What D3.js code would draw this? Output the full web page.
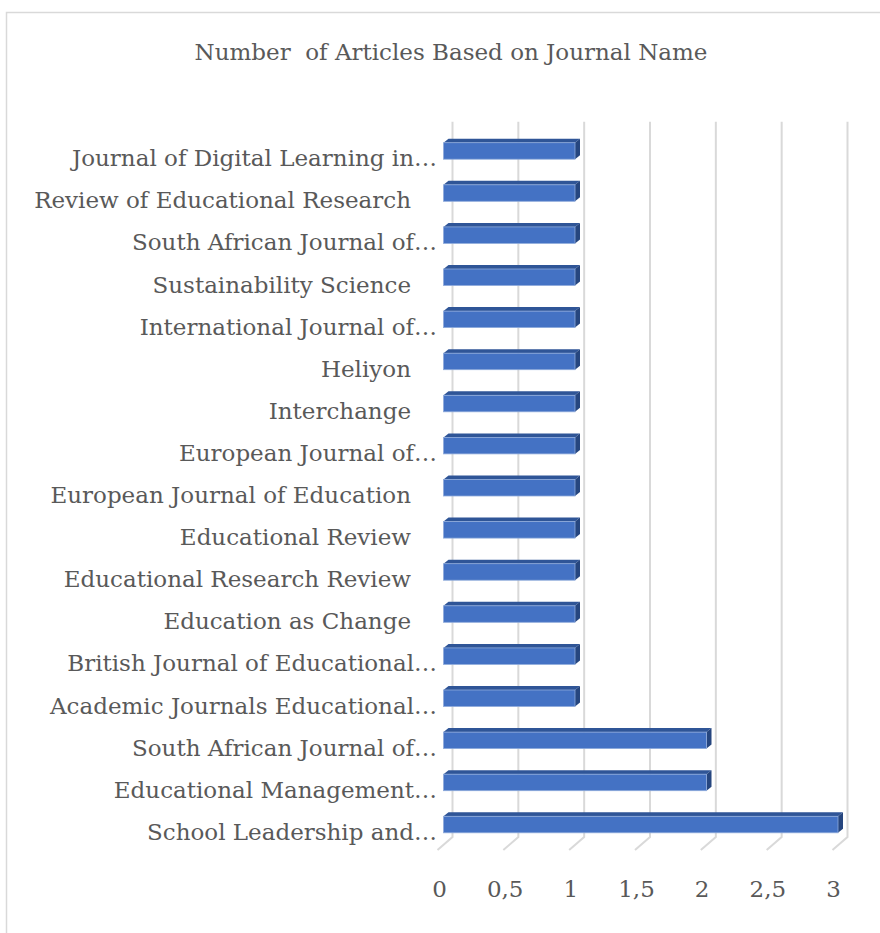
<!DOCTYPE html>
<html>
<head>
<meta charset="utf-8">
<script src="https://cdn.jsdelivr.net/npm/d3@7"></script>
<style>
  html, body { margin: 0; padding: 0; background: #fff; }
  svg { display: block; }
</style>
</head>
<body>
<svg id="chart" width="880" height="933"></svg>
<script>
const title = "Number  of Articles Based on Journal Name";
const categories = [
  "Journal of Digital Learning in…",
  "Review of Educational Research",
  "South African Journal of…",
  "Sustainability Science",
  "International Journal of…",
  "Heliyon",
  "Interchange",
  "European Journal of…",
  "European Journal of Education",
  "Educational Review",
  "Educational Research Review",
  "Education as Change",
  "British Journal of Educational…",
  "Academic Journals Educational…",
  "South African Journal of…",
  "Educational Management…",
  "School Leadership and…"
];
const values = [1,1,1,1,1,1,1,1,1,1,1,1,1,1,2,2,3];
const tickValues = [0, 0.5, 1, 1.5, 2, 2.5, 3];
const tickLabels = ["0", "0,5", "1", "1,5", "2", "2,5", "3"];

const svg = d3.select("#chart");
const FONT = "'DejaVu Serif', serif";
const TXT = "#595959";

// chart border
svg.append("rect").attr("x", 6.5).attr("y", 12.5).attr("width", 900).attr("height", 960)
  .attr("fill", "#fff").attr("stroke", "#d9d9d9").attr("stroke-width", 1.5);

// title
svg.append("text").attr("x", 451).attr("y", 59.5).attr("text-anchor", "middle")
  .attr("font-family", FONT).attr("font-size", 23).attr("fill", TXT)
  .attr("xml:space", "preserve").style("white-space", "pre").text(title);

// scales
const xBack = d3.scaleLinear().domain([0, 3]).range([452.5, 847.5]);
const xFront = d3.scaleLinear().domain([0, 3]).range([443.5, 838]);
const xTick = d3.scaleLinear().domain([0, 3]).range([439, 833]);
const idx = categories.map((d, i) => i);
const y = d3.scalePoint().domain(idx).range([142.7, 142.7 + 16 * 42.1]);
const barH = 16.5, dx = 5, dy = -4;
const wallTop = 121.7, wallBottom = 837, floorDx = -15, floorDy = 13;

// gridlines (back wall + floor)
const grid = svg.append("g");
tickValues.forEach(v => {
  const x = xBack(v);
  grid.append("path")
    .attr("d", `M${x},${wallTop}L${x},${wallBottom}L${x + floorDx},${wallBottom + floorDy}`)
    .attr("fill", "none").attr("stroke", "#d9d9d9").attr("stroke-width", 2);
});

// bars
const bars = svg.append("g").selectAll("g").data(idx).join("g");
bars.each(function(i) {
  const g = d3.select(this);
  const x0 = xFront(0), x1 = xFront(values[i]), yt = y(i);
  g.append("path")
    .attr("d", `M${x0},${yt}L${x0 + dx},${yt + dy}L${x1 + dx},${yt + dy}L${x1},${yt}Z`)
    .attr("fill", "#2f5597");
  g.append("path")
    .attr("d", `M${x1},${yt}L${x1 + dx},${yt + dy}L${x1 + dx},${yt + dy + barH}L${x1},${yt + barH}Z`)
    .attr("fill", "#26467f");
  g.append("rect").attr("x", x0).attr("y", yt).attr("width", x1 - x0).attr("height", barH)
    .attr("fill", "#4472c4").attr("stroke", "#8eaadb").attr("stroke-width", 0.8);
});

// category labels
svg.append("g").selectAll("text").data(idx).join("text")
  .attr("x", i => categories[i].endsWith("…") ? 437 : 411)
  .attr("y", i => y(i) + 23.5)
  .attr("text-anchor", "end")
  .attr("font-family", FONT).attr("font-size", 23).attr("fill", TXT)
  .text(i => categories[i]);

// value axis tick labels
const axis = d3.axisBottom(xTick).tickValues(tickValues)
  .tickFormat((d, i) => tickLabels[i]).tickSize(0).tickPadding(0);
const ag = svg.append("g").attr("transform", "translate(0,881)").call(axis);
ag.select(".domain").remove();
ag.selectAll("text").attr("font-family", FONT).attr("font-size", 23)
  .attr("fill", TXT).attr("dy", "0.71em");
</script>
</body>
</html>
